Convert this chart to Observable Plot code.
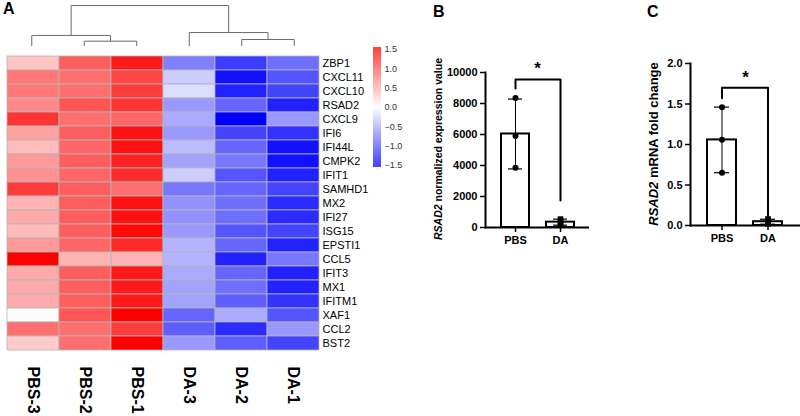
<!DOCTYPE html>
<html><head><meta charset="utf-8">
<script src="https://cdn.jsdelivr.net/npm/d3@7"></script>
<script src="https://cdn.jsdelivr.net/npm/@observablehq/plot@0.6"></script>
<style>
body{margin:0;background:#fff;font-family:"Liberation Sans",Arial,sans-serif;}
#root{position:relative;width:800px;height:416px;overflow:hidden;background:#fff;}
.letter{position:absolute;font:bold 16px "Liberation Sans",Arial,sans-serif;color:#000;}
.ylab{position:absolute;white-space:nowrap;font-weight:bold;color:#000;font-family:"Liberation Sans",Arial,sans-serif;transform:translate(-50%,-50%) rotate(-90deg);}
</style></head><body><div id="root"></div>
<script>
// ---------- Panel A: heatmap data (row z-scores) ----------
const samples = ["PBS-3","PBS-2","PBS-1","DA-3","DA-2","DA-1"];
const genes = ["ZBP1","CXCL11","CXCL10","RSAD2","CXCL9","IFI6","IFI44L","CMPK2","IFIT1","SAMHD1","MX2","IFI27","ISG15","EPSTI1","CCL5","IFIT3","MX1","IFITM1","XAF1","CCL2","BST2"];
const zPBS3 = [0.35,0.8,0.8,0.7,1.2,0.55,0.4,0.6,0.65,1.15,0.45,0.5,0.4,0.6,1.55,0.5,0.5,0.5,0.02,0.85,0.3];
const zPBS2 = [0.95,0.85,0.85,1.0,0.85,0.95,0.9,0.95,0.9,0.95,0.95,0.95,0.95,0.9,0.45,0.95,0.95,0.95,1.0,0.85,0.85];
const zPBS1 = [1.35,1.1,1.15,1.2,0.9,1.4,1.4,1.3,1.25,0.85,1.4,1.4,1.45,1.25,0.45,1.35,1.35,1.35,1.5,1.15,1.5];
const zDA3  = [-0.75,-0.3,-0.2,-0.6,-0.5,-0.6,-0.4,-0.55,-0.3,-0.8,-0.65,-0.65,-0.6,-0.45,-0.45,-0.5,-0.55,-0.55,-0.9,-0.95,-0.6];
const zDA2  = [-1.15,-1.4,-1.3,-0.9,-1.55,-1.1,-0.9,-0.8,-1.0,-0.9,-0.85,-0.85,-1.0,-0.9,-1.3,-0.9,-0.85,-0.95,-0.5,-1.25,-0.95];
const zDA1  = [-0.85,-1.0,-1.1,-1.3,-0.6,-1.2,-1.4,-1.4,-1.3,-1.1,-1.25,-1.25,-1.1,-1.3,-0.8,-1.3,-1.3,-1.2,-1.0,-0.6,-1.1];
const legendTicks = [-1.5,-1,-0.5,0,0.5,1,1.5];
// column dendrogram: merges with heights
const dendroMerges = [
  {id:"m1", left:"PBS-2", right:"PBS-1", height:1.3},
  {id:"m2", left:"PBS-3", right:"m1", height:2.7},
  {id:"m3", left:"DA-2", right:"DA-1", height:1.7},
  {id:"m4", left:"DA-3", right:"m3", height:3.4},
  {id:"m5", left:"m2", right:"m4", height:10}
];
// ---------- Panel B / C data ----------
const groups = ["PBS","DA"];
const rnaseqPBS = [8350, 5900, 3850];
const rnaseqDA = [540, 350, 150];
const qpcrPBS = [1.46, 1.06, 0.65];
const qpcrDA = [0.08, 0.04, 0.02];
const ticksB = [0,2000,4000,6000,8000,10000];
const ticksC = [0,0.5,1.0,1.5,2.0];
const sigB = {top:9550, leftEnd:8970, rightEnd:1740, star:10250, label:"*"};
const sigC = {top:1.70, leftEnd:1.57, rightEnd:0.10, star:1.83, label:"*"};

const FONT = '"Liberation Sans", Arial, sans-serif';
const root = document.getElementById("root");
function place(el, left, top){ el.style.position="absolute"; el.style.left=left+"px"; el.style.top=top+"px"; root.append(el); return el; }
function addDiv(cls, html, left, top, extra){ const d=document.createElement("div"); d.className=cls; d.innerHTML=html; d.style.left=left+"px"; d.style.top=top+"px"; if(extra) Object.assign(d.style, extra); root.append(d); return d; }

const colorScale = {type:"linear", domain:[-1.5,0,1.5], range:["#0000ff","#ffffff","#ff0000"], clamp:true};

// heatmap cells
const cols = [zPBS3,zPBS2,zPBS1,zDA3,zDA2,zDA1];
const cells = [];
samples.forEach((s,j)=>genes.forEach((g,i)=>cells.push({sample:s, gene:g, z:cols[j][i]})));

const heat = Plot.plot({
  width:375, height:416, marginTop:46, marginBottom:57, marginLeft:5, marginRight:55,
  style:{fontFamily:FONT, background:"transparent"},
  x:{type:"band", domain:samples, padding:0},
  y:{type:"band", domain:genes, padding:0},
  color:colorScale,
  marks:[
    Plot.cell(cells,{x:"sample", y:"gene", fill:"z", stroke:"#b4b4b4", strokeWidth:0.8, inset:0}),
    Plot.axisY({anchor:"right", tickSize:0, tickPadding:2, fontSize:11, fill:"#000", label:null}),
    Plot.axisX({anchor:"bottom", tickSize:0, tickPadding:7, tickRotate:90, fontSize:16, fontWeight:"bold", fill:"#000", label:null})
  ]
});
place(heat,0,0);

// dendrogram
const nodeX = new Map(samples.map((s,i)=>[s,i]));
const nodeH = new Map(samples.map(s=>[s,0]));
const dsegs = [];
for (const m of dendroMerges){
  const xl=nodeX.get(m.left), xr=nodeX.get(m.right);
  dsegs.push({x1:xl,y1:nodeH.get(m.left),x2:xl,y2:m.height});
  dsegs.push({x1:xr,y1:nodeH.get(m.right),x2:xr,y2:m.height});
  dsegs.push({x1:xl,y1:m.height,x2:xr,y2:m.height});
  nodeX.set(m.id,(xl+xr)/2); nodeH.set(m.id,m.height);
}
const dendro = Plot.plot({
  width:375, height:46, marginTop:5, marginBottom:0, marginLeft:5, marginRight:55,
  style:{background:"transparent"},
  x:{domain:[-0.5,5.5], axis:null},
  y:{domain:[0,10], axis:null},
  marks:[Plot.link(dsegs,{x1:"x1",y1:"y1",x2:"x2",y2:"y2", stroke:"#6b6b6b", strokeWidth:1})]
});
place(dendro,0,0);

// colour legend
const legendSteps = d3.range(-1.55, 1.55, 0.01);
const legend = Plot.plot({
  width:34, height:416, marginTop:47, marginBottom:249, marginLeft:0, marginRight:26,
  style:{fontFamily:FONT, background:"transparent"},
  x:{domain:[0,1], axis:null},
  y:{domain:[-1.55,1.55]},
  color:colorScale,
  marks:[
    Plot.rect(legendSteps,{x1:0,x2:1,y1:d=>d,y2:d=>d+0.0105,fill:d=>d+0.005}),
    Plot.axisY({anchor:"right", ticks:legendTicks, tickSize:0, tickPadding:3, fontSize:9, fill:"#333", label:null})
  ]
});
place(legend,373,0);

// bar panels
function stats(vals){ const m=d3.mean(vals), sd=d3.deviation(vals); return {mean:m, lo:m-sd, hi:m+sd}; }
function barPanel(pbs, da, ticks, fmt, sig, opts){
  const st = [{g:"PBS",...stats(pbs)},{g:"DA",...stats(da)}];
  const ptsP = pbs.map(v=>({g:"PBS",v})), ptsD = da.map(v=>({g:"DA",v}));
  const bracket = [{g:"PBS",v:sig.leftEnd},{g:"PBS",v:sig.top},{g:"DA",v:sig.top},{g:"DA",v:sig.rightEnd}];
  return Plot.plot({
    width:opts.width, height:416, marginTop:opts.mt, marginBottom:opts.mb, marginLeft:opts.ml, marginRight:opts.mr,
    style:{fontFamily:FONT, background:"transparent", overflow:"visible"},
    x:{type:"band", domain:groups, paddingInner:opts.pi, paddingOuter:opts.po},
    y:{domain:[ticks[0], ticks[ticks.length-1]]},
    marks:[
      Plot.barY(st,{x:"g", y:"mean", fill:"white", stroke:"black", strokeWidth:2}),
      Plot.ruleX(st,{x:"g", y1:"lo", y2:"hi", stroke:"black", strokeWidth:1}),
      Plot.tickY(st,{x:"g", y:"hi", stroke:"black", strokeWidth:1.2, insetLeft:7, insetRight:7}),
      Plot.tickY(st,{x:"g", y:"lo", stroke:"black", strokeWidth:1.2, insetLeft:7, insetRight:7}),
      Plot.dot(ptsP,{x:"g", y:"v", r:3, fill:"black", symbol:"circle"}),
      Plot.dot(ptsD,{x:"g", y:"v", r:3.2, fill:"black", symbol:"square"}),
      Plot.line(bracket,{x:"g", y:"v", stroke:"black", strokeWidth:2}),
      Plot.text([sig],{y:"star", text:"label", fontSize:17, fontWeight:"bold", fill:"black"}),
      Plot.ruleY([ticks[0]],{stroke:"black", strokeWidth:2}),
      Plot.frame({anchor:"left", stroke:"black", strokeWidth:2}),
      Plot.axisY({ticks, tickFormat:fmt, tickSize:5, tickPadding:3, fontSize:11, fontWeight:"bold", fill:"black", strokeWidth:1.5, label:null}),
      Plot.axisX({tickSize:5, tickPadding:4, fontSize:11, fontWeight:"bold", fill:"black", strokeWidth:1.5, label:null})
    ]
  });
}
const pB = barPanel(rnaseqPBS, rnaseqDA, ticksB, d=>String(d), sigB, {width:200, mt:72, mb:189, ml:85, mr:11, pi:0.38, po:0.34});
place(pB,400,0);
const pC = barPanel(qpcrPBS, qpcrDA, ticksC, d3.format(".1f"), sigC, {width:200, mt:63, mb:191, ml:90, mr:0, pi:0.366, po:0.36});
place(pC,600,0);

// labels
addDiv("letter","A",3,0);
addDiv("letter","B",433,3);
addDiv("letter","C",647,3);
addDiv("ylab","<i>RSAD2</i> normalized expression value",438,149,{fontSize:"10.5px"});
addDiv("ylab","<i>RSAD2</i> mRNA fold change",653,144,{fontSize:"13px"});
</script></body></html>
